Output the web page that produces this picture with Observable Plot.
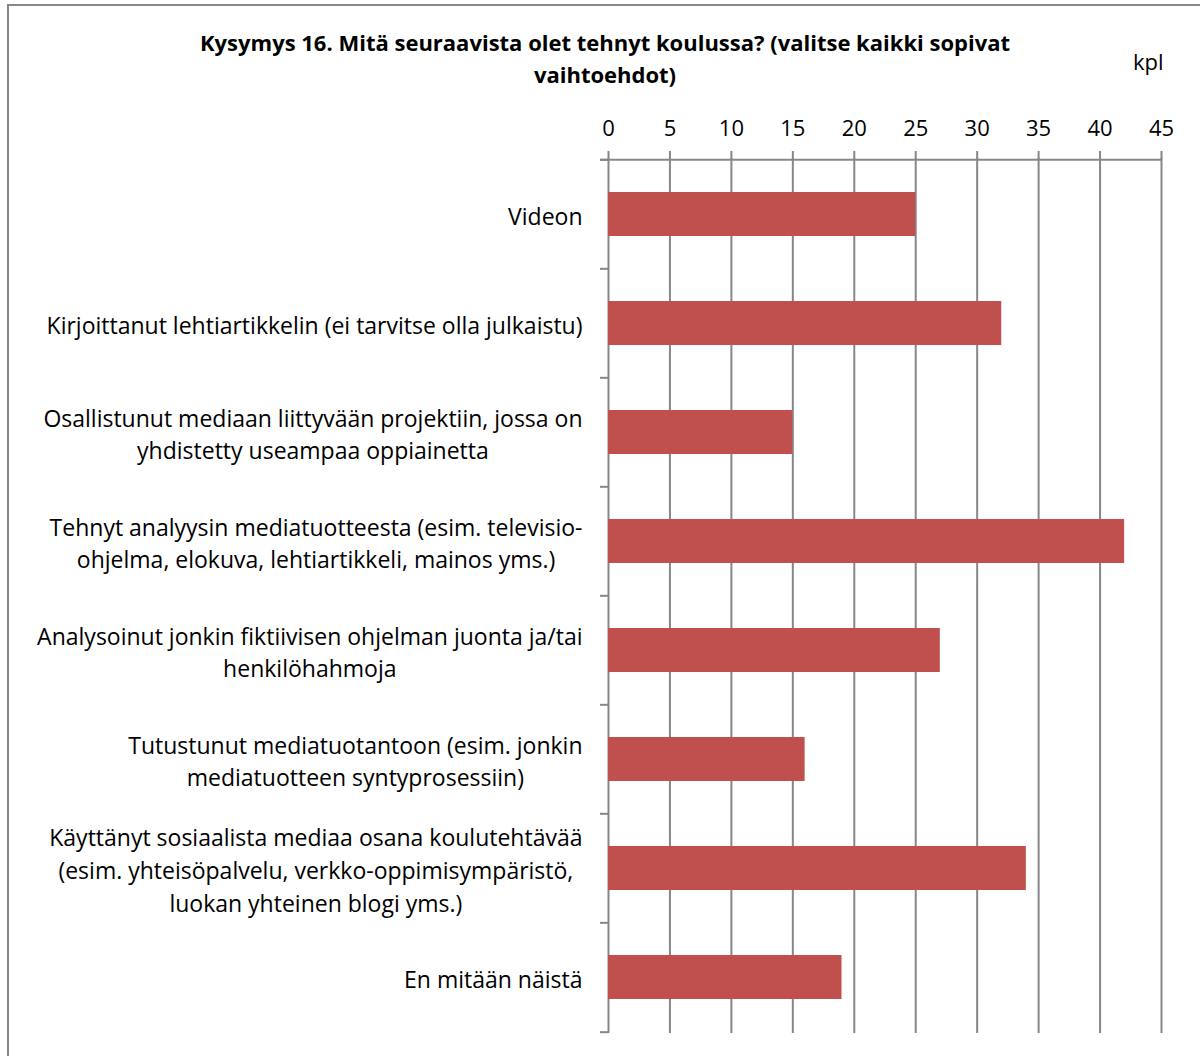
<!DOCTYPE html>
<html>
<head>
<meta charset="utf-8">
<script src="https://cdn.jsdelivr.net/npm/d3@7"></script>
<script src="https://cdn.jsdelivr.net/npm/@observablehq/plot@0.6"></script>
<style>
  html, body { margin: 0; padding: 0; background: #fff; overflow: hidden; }
  body { width: 1200px; height: 1056px; position: relative; font-family: "Open Sans", Lato, sans-serif; }
  #frame { position: absolute; left: 7px; top: 4px; width: 1300px; height: 1200px; border: 2px solid #888; box-sizing: border-box; }
  #title { position: absolute; left: 100px; width: 1010px; top: 26px; text-align: center; font-weight: bold; font-size: 22px; line-height: 32px; color: #000; }
  #unit { position: absolute; left: 1133px; top: 46px; font-size: 22px; color: #000; }
  #chart { position: absolute; left: 0; top: 0; }
</style>
</head>
<body>
<div id="frame"></div>
<div id="title">Kysymys 16. Mitä seuraavista olet tehnyt koulussa? (valitse kaikki sopivat<br>vaihtoehdot)</div>
<div id="unit">kpl</div>
<div id="chart"></div>
<script>
const categories = [
  "Videon",
  "Kirjoittanut lehtiartikkelin (ei tarvitse olla julkaistu)",
  "Osallistunut mediaan liittyvään projektiin, jossa on\nyhdistetty useampaa oppiainetta",
  "Tehnyt analyysin mediatuotteesta (esim. televisio-\nohjelma, elokuva, lehtiartikkeli, mainos yms.)",
  "Analysoinut jonkin fiktiivisen ohjelman juonta ja/tai\nhenkilöhahmoja",
  "Tutustunut mediatuotantoon (esim. jonkin\nmediatuotteen syntyprosessiin)",
  "Käyttänyt sosiaalista mediaa osana koulutehtävää\n(esim. yhteisöpalvelu, verkko-oppimisympäristö,\nluokan yhteinen blogi yms.)",
  "En mitään näistä"
];
const values = [25, 32, 15, 42, 27, 16, 34, 19];
const xTicks = [0, 5, 10, 15, 20, 25, 30, 35, 40, 45];

const data = categories.map((c, i) => ({category: c, value: values[i]}));

const W = 1200, H = 1056;
const mTop = 158, mBottom = 23, mLeft = 608, mRight = 39;
const step = (H - mTop - mBottom) / categories.length;
const gray = "#878787";
const first = categories[0], last = categories[categories.length - 1];

const chart = Plot.plot({
  width: W,
  height: H,
  marginTop: mTop,
  marginBottom: mBottom,
  marginLeft: mLeft,
  marginRight: mRight,
  style: {fontFamily: "'Open Sans', Lato, sans-serif", fontSize: "22px", color: "#000", background: "transparent"},
  x: {domain: [0, 45], ticks: xTicks},
  y: {domain: categories, paddingInner: 0.6, paddingOuter: 0.3},
  marks: [
    Plot.ruleX(xTicks, {stroke: gray, strokeWidth: 2, strokeOpacity: 1}),
    Plot.ruleY(categories, {y: d => d, x1: 0, x2: 0, dy: -step / 2, insetLeft: -8, stroke: gray, strokeWidth: 2}),
    Plot.ruleY([last], {y: d => d, x1: 0, x2: 0, dy: step / 2, insetLeft: -8, stroke: gray, strokeWidth: 2}),
    Plot.ruleY([first], {y: d => d, x1: 0, x2: 45, dy: -step / 2, insetLeft: -8, stroke: gray, strokeWidth: 2}),
    Plot.barX(data, {y: "category", x: "value", fill: "#C0504D"}),
    Plot.axisX({anchor: "top", ticks: xTicks, tickSize: 8, tickPadding: 15, stroke: gray, strokeWidth: 2, strokeOpacity: 1, fontSize: 22, label: null}),
    Plot.axisY({tickSize: 0, tickPadding: 26, fontSize: 23, lineHeight: 1.43, label: null, tickFormat: d => d})
  ]
});
document.getElementById("chart").appendChild(chart);

// center multi-line labels within their block, block right-aligned
chart.querySelectorAll('g[aria-label="y-axis tick label"] text').forEach(t => {
  const w = t.getBBox().width;
  t.setAttribute("text-anchor", "middle");
  t.style.textAnchor = "middle";
  t.setAttribute("transform", (t.getAttribute("transform") || "") + ` translate(${-w / 2},0)`);
});
</script>
</body>
</html>
